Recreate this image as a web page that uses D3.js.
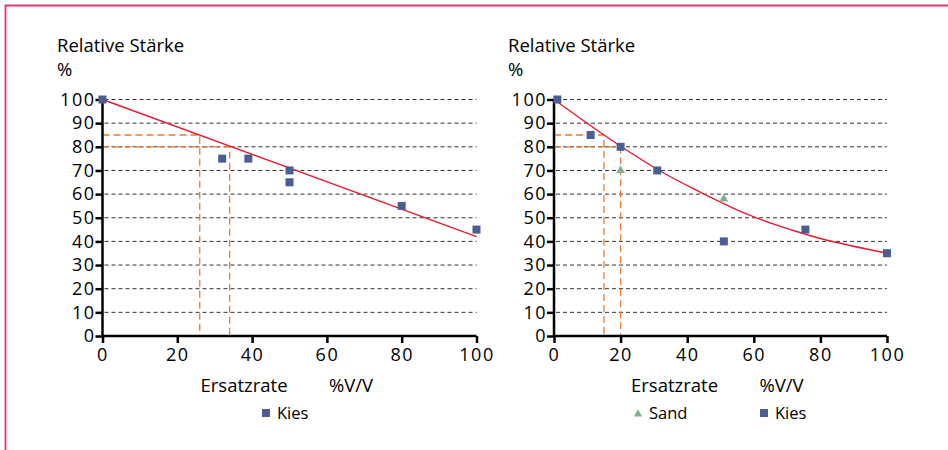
<!DOCTYPE html>
<html>
<head>
<meta charset="utf-8">
<script src="https://cdn.jsdelivr.net/npm/d3@7"></script>
<style>
  body { margin: 0; background: #fff; }
  svg text { font-family: "Open Sans", "Noto Sans", sans-serif; fill: #000; font-weight: 500; }
  .grid line { stroke: #333; stroke-width: 1; stroke-dasharray: 4,3; }
  .axis path, .axis line { stroke: #000; stroke-width: 2.5; }
  .axis text { font-size: 18px; letter-spacing: 1.5px; }
</style>
</head>
<body>
<svg id="chart" width="948" height="450"></svg>
<script>
// data
var yTicks = [0, 10, 20, 30, 40, 50, 60, 70, 80, 90, 100];
var xTicks = [0, 20, 40, 60, 80, 100];

// left chart - Kies
var kiesLeftX = [0, 32, 39, 50, 50, 80, 100];
var kiesLeftY = [100, 75, 75, 70, 65, 55, 45];
var trendLeftX = [0, 100];
var trendLeftY = [100, 42];
var guideLeftX = [26, 34];
var guideLeftY = [85, 80];

// right chart - Sand + Kies
var sandRightX = [20, 51];
var sandRightY = [70, 58];
var kiesRightX = [1, 11, 20, 31, 51, 75.5, 100];
var kiesRightY = [100, 85, 80, 70, 40, 45, 35];
var trendRightX = [0, 15, 31, 43, 58, 71, 82, 100];
var trendRightY = [100, 85, 70.5, 61.5, 51.5, 45, 40.5, 35];
var guideRightX = [15, 20];
var guideRightY = [85, 80];

var svg = d3.select('#chart');

// frame
svg.append('path')
    .attr('d', 'M5.5,450 L5.5,5.5 L948,5.5')
    .attr('fill', 'none')
    .attr('stroke', '#e8336d')
    .attr('stroke-width', 1.8);

var zip = function(xs, ys) { return xs.map(function(x, i) { return {x: x, y: ys[i]}; }); };

function drawPanel(opt) {
    var x = d3.scaleLinear().domain([0, 100]).range([opt.x0, opt.x1]);
    var y = d3.scaleLinear().domain([0, 100]).range([336, 99.5]);
    var g = svg.append('g');

    // titles
    g.append('text').attr('x', opt.tx).attr('y', 52).style('font-size', '18.5px').text('Relative Stärke');
    g.append('text').attr('x', opt.tx).attr('y', 76).style('font-size', '18.5px').text('%');

    // grid
    g.append('g').attr('class', 'grid')
        .selectAll('line')
        .data(yTicks.filter(function(d) { return d > 0; }))
        .enter()
        .append('line')
        .attr('x1', x(0) + 2)
        .attr('x2', x(100))
        .attr('y1', function(d) { return y(d); })
        .attr('y2', function(d) { return y(d); });

    // orange guides
    var guides = g.append('g').attr('fill', 'none').attr('stroke', '#f07a2a')
        .attr('stroke-width', 1.3).attr('stroke-dasharray', '7,4');
    opt.gx.forEach(function(gx, i) {
        var gy = opt.gy[i];
        guides.append('path')
            .attr('d', 'M' + x(0) + ',' + y(gy) + ' L' + x(gx) + ',' + y(gy) + ' L' + x(gx) + ',' + y(0));
    });

    // axes
    var axisY = d3.axisLeft(y).tickValues(yTicks).tickSize(7).tickPadding(0);
    var axisX = d3.axisBottom(x).tickValues(xTicks).tickSize(7).tickPadding(5);
    g.append('g').attr('class', 'axis').attr('transform', 'translate(' + x(0) + ',0)').call(axisY)
        .call(function(s) { s.select('.domain').attr('d', 'M0,' + y(0) + 'V' + y(100)); });
    g.append('g').attr('class', 'axis').attr('transform', 'translate(0,' + y(0) + ')').call(axisX)
        .call(function(s) { s.select('.domain').attr('d', 'M' + x(0) + ',0H' + x(100)); });
    g.selectAll('.axis text').attr('fill', '#000');

    // trend line
    var line = d3.line()
        .x(function(d) { return x(d.x); })
        .y(function(d) { return y(d.y); })
        .curve(d3.curveNatural);
    g.append('path')
        .datum(zip(opt.lx, opt.ly))
        .attr('fill', 'none')
        .attr('stroke', '#e8192f')
        .attr('stroke-width', 1.4)
        .attr('d', line);

    // sand triangles
    if (opt.sx) {
        g.selectAll('.sand')
            .data(zip(opt.sx, opt.sy))
            .enter()
            .append('path')
            .attr('class', 'sand')
            .attr('transform', function(d) { return 'translate(' + x(d.x) + ',' + y(d.y) + ')'; })
            .attr('d', d3.symbol().type(d3.symbolTriangle).size(34))
            .attr('fill', '#7fb08f');
    }

    // kies squares
    g.selectAll('.kies')
        .data(zip(opt.kx, opt.ky))
        .enter()
        .append('rect')
        .attr('class', 'kies')
        .attr('x', function(d) { return x(d.x) - 4; })
        .attr('y', function(d) { return y(d.y) - 4; })
        .attr('width', 8)
        .attr('height', 8)
        .attr('fill', '#4a5e92');

    // x label
    g.append('text').attr('x', opt.ex).attr('y', 392).style('font-size', '18.5px').text('Ersatzrate');
    g.append('text').attr('x', opt.ex + 128.5).attr('y', 392).style('font-size', '18.5px').text('%V/V');

    // legend
    var leg = g.append('g').style('font-size', '16.5px');
    if (opt.sx) {
        leg.append('path')
            .attr('transform', 'translate(' + opt.sandLeg + ',414)')
            .attr('d', d3.symbol().type(d3.symbolTriangle).size(30))
            .attr('fill', '#7fb08f');
        leg.append('text').attr('x', opt.sandLeg + 11).attr('y', 419).text('Sand');
    }
    leg.append('rect').attr('x', opt.kiesLeg).attr('y', 409).attr('width', 8).attr('height', 8).attr('fill', '#4a5e92');
    leg.append('text').attr('x', opt.kiesLeg + 15).attr('y', 419).text('Kies');
}

drawPanel({
    x0: 102.5, x1: 476.5, tx: 57, ex: 200.5,
    kx: kiesLeftX, ky: kiesLeftY,
    lx: trendLeftX, ly: trendLeftY,
    gx: guideLeftX, gy: guideLeftY,
    kiesLeg: 262
});

drawPanel({
    x0: 554, x1: 887, tx: 508, ex: 631,
    kx: kiesRightX, ky: kiesRightY,
    sx: sandRightX, sy: sandRightY,
    lx: trendRightX, ly: trendRightY,
    gx: guideRightX, gy: guideRightY,
    sandLeg: 638, kiesLeg: 760
});
</script>
</body>
</html>
